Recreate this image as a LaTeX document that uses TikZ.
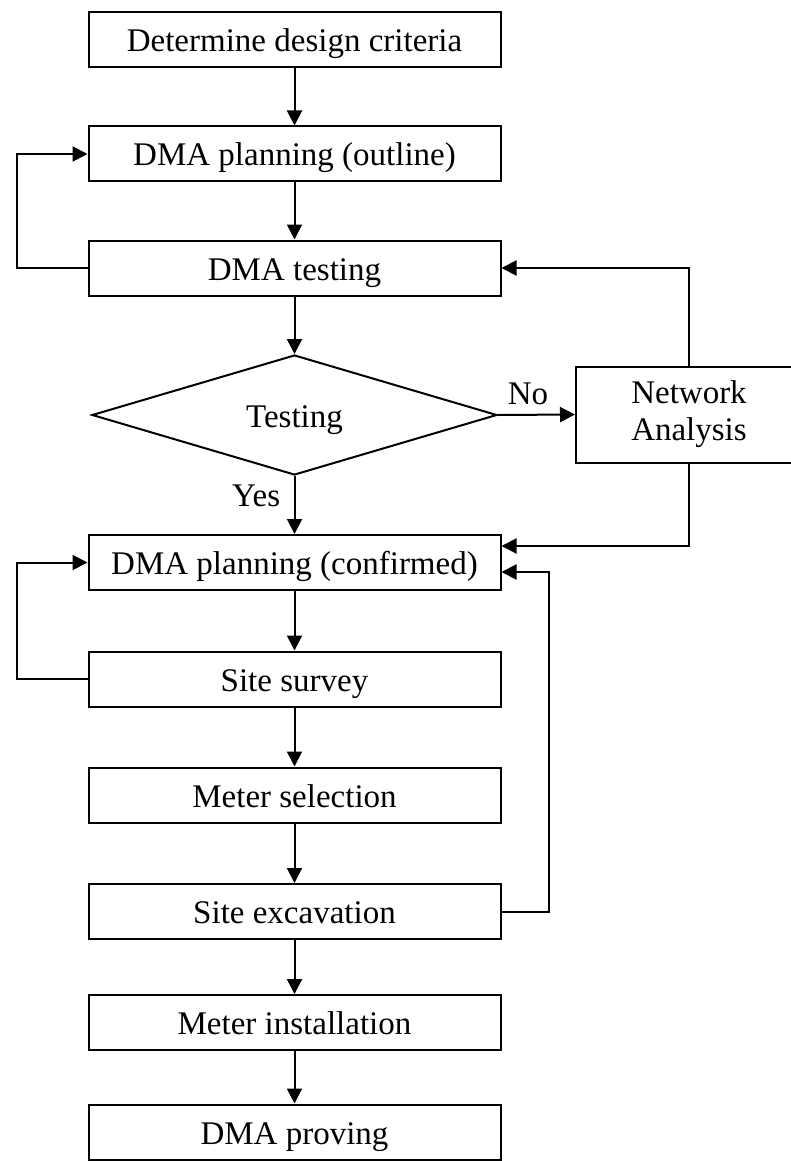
\documentclass[tikz,border=0pt]{standalone}
\usepackage{fontspec}
\setmainfont{Liberation Serif}
\usetikzlibrary{arrows.meta,shapes.geometric}

\tikzset{
  stepbox/.style={draw,line width=2pt,minimum width=412pt,minimum height=55pt,
    inner sep=0pt,text height=24pt,text depth=0pt},
  flow/.style={line width=2pt,-{Triangle[length=15pt,width=15pt]}},
}

\begin{document}
\begin{tikzpicture}[x=1pt,y=1pt,font=\fontsize{33}{37}\selectfont]
  \useasboundingbox (0,0) rectangle (791,-1161);
  \clip (0,0) rectangle (791,-1161);
  % main column of steps
  \foreach \n/\y/\t in {crit/39.5/Determine design criteria,
      outl/154/DMA planning (outline),
      test/268/DMA testing,
      conf/562.5/DMA planning (confirmed),
      surv/679/Site survey,
      msel/795/Meter selection,
      exc/911.5/Site excavation,
      inst/1022.5/Meter installation,
      prov/1132/DMA proving}{
    \node[stepbox] (\n) at (294.5,-\y) {\t};
  }
  \node[draw,diamond,line width=2pt,aspect=3.4,minimum width=405pt,minimum height=120pt,
    inner sep=0pt,text height=24pt,text depth=0pt] (dec) at (294.5,-415) {Testing};
  \node[draw,line width=2pt,minimum width=226pt,minimum height=96pt,align=center] (net) at (689,-414.5) {Network\\Analysis};
  % straight flow down the column
  \foreach \a/\b in {crit/outl,outl/test,test/dec,conf/surv,surv/msel,msel/exc,exc/inst,inst/prov}{
    \draw[flow] (\a) -- (\b);
  }
  \draw[flow] (dec.east) -- node[pos=0.39,above=6pt] {No} (net.west);
  \draw[flow] (dec.south) -- node[pos=0.35,left=10pt] {Yes} (conf.north);
  % loops back
  \draw[flow] (test.west) -- ++(-71,0) |- (outl.west);
  \draw[flow] (surv.west) -- ++(-71,0) |- (conf.west);
  \draw[flow] (net.north) |- (test.east);
  \draw[flow] (net.south) |- ([yshift=16.5pt]conf.east);
  \draw[flow] (exc.east) -- ++(47,0) |- ([yshift=-9.5pt]conf.east);
\end{tikzpicture}
\end{document}
